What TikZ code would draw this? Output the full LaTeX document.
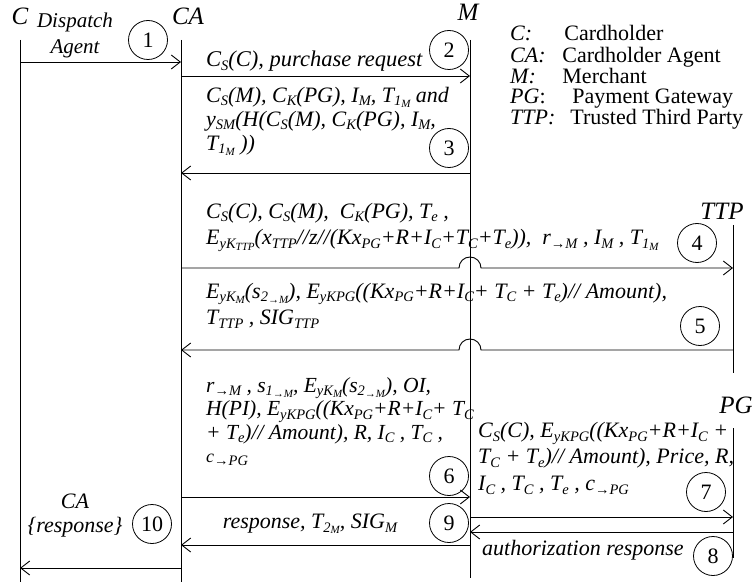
\documentclass[tikz,border=0pt]{standalone}
\usepackage{fontspec}
\setmainfont{Liberation Serif}
\usepackage{tikz}
\usetikzlibrary{arrows.meta}
\newcommand\sbs[1]{\raisebox{-.35ex}{\fontsize{14.5}{14.5}\selectfont #1}}
\newcommand\ssbs[1]{\raisebox{-.25ex}{\fontsize{11}{11}\selectfont #1}}
\tikzstyle{Actor}=[font=\itshape\fontsize{25}{25}\selectfont,inner sep=0pt]
\tikzstyle{LifeLine}=[line width=.9pt]
\tikzstyle{StepNode}=[circle,draw,line width=.8pt,minimum size=39pt,inner sep=0pt,
font=\fontsize{22}{22}\selectfont]
\tikzstyle{MsgArrow}=[line width=.9pt,-{Straight Barb[length=9pt,width=14pt]}]
\tikzstyle{MsgText}=[font=\itshape\fontsize{22}{24}\selectfont,align=left,anchor=north west,
inner sep=0pt]
\tikzstyle{WideText}=[MsgText,font=\itshape\fontsize{22}{26.5}\selectfont]
\tikzstyle{LegendBox}=[font=\fontsize{22}{19.5}\selectfont,anchor=north west,inner sep=0pt]

\begin{document}
\begin{tikzpicture}[x=1pt,y=-1pt]
    \useasboundingbox (0,0) rectangle (755,588);
    % actors
    \node[Actor](C)at(20,16){C};
    \node[Actor,font=\itshape\fontsize{21}{26}\selectfont,align=center](CDisp)at(75,35){Dispatch\\Agent};
    \node[Actor](CA)at(188,16){CA};
    \node[Actor](M)at(468,12){M};
    \node[Actor](TTP)at(722,211){TTP};
    \node[Actor](PG)at(736,405){PG};
    % life lines
    \coordinate(cTop)at(20,40);   \coordinate(cBot)at(20,582);
    \coordinate(caTop)at(181,40); \coordinate(caBot)at(181,582);
    \coordinate(mTop)at(470,40);  \coordinate(mBot)at(470,578);
    \coordinate(ttpTop)at(733,225); \coordinate(ttpBot)at(733,373);
    \coordinate(pgTop)at(733,428);  \coordinate(pgBot)at(733,558);
    \draw[LifeLine](cTop)--(cBot);
    \draw[LifeLine](caTop)--(caBot);
    \draw[LifeLine](mTop)--(mBot);
    \draw[LifeLine](ttpTop)--(ttpBot);
    \draw[LifeLine](pgTop)--(pgBot);
    % legend
    \node[LegendBox](legend)at(510,25.5){\begin{tabular}{@{}l@{\hspace{7pt}}l@{}}
        \textit{C:}   & \hspace{2pt}Cardholder\\
        \textit{CA:}  & Cardholder Agent\\
        \textit{M:}   & Merchant\\
        \textit{PG}:  & \hspace{10pt}Payment Gateway\\
        \textit{TTP:} & \hspace{8pt}Trusted Third Party
    \end{tabular}};
    % message points
    \coordinate(c1)at(20,62);    \coordinate(ca1)at(181,62);
    \coordinate(ca2)at(181,76);  \coordinate(m2)at(470,76);
    \coordinate(m3)at(470,173);  \coordinate(ca3)at(181,173);
    \coordinate(ca4)at(181,268); \coordinate(m4)at(470,268);  \coordinate(ttp4)at(733,268);
    \coordinate(ttp5)at(733,350);\coordinate(m5)at(470,350);  \coordinate(ca5)at(181,350);
    \coordinate(ca6)at(181,497); \coordinate(m6)at(470,497);
    \coordinate(m7)at(470,517);  \coordinate(pg7)at(733,517);
    \coordinate(pg8)at(733,532); \coordinate(m8)at(470,532);
    \coordinate(m9)at(470,545);  \coordinate(ca9)at(181,545);
    \coordinate(ca10)at(181,568);\coordinate(c10)at(20,568);
    % messages
    \draw[MsgArrow](c1)--(ca1);
    \draw[MsgArrow](ca2)--(m2);
    \draw[MsgArrow](m3)--(ca3);
    \draw[MsgArrow](ca4)--([xshift=-11pt]m4)arc[start angle=180,end angle=0,radius=11pt]--(ttp4);
    \draw[MsgArrow](ttp5)--([xshift=11pt]m5)arc[start angle=0,end angle=180,radius=11pt]--(ca5);
    \draw[MsgArrow](ca6)--(m6);
    \draw[MsgArrow](m7)--(pg7);
    \draw[MsgArrow](pg8)--(m8);
    \draw[MsgArrow](m9)--(ca9);
    \draw[MsgArrow](ca10)--(c10);
    % labels
    \node[MsgText,font=\itshape\fontsize{22.5}{24}\selectfont](t2)at(206,51){C\sbs{S}(C), purchase request};
    \node[MsgText](t3)at(206,87){C\sbs{S}(M), C\sbs{K}(PG), I\sbs{M}, T\sbs{1\ssbs{M}} and\\
        y\sbs{SM}(H(C\sbs{S}(M), C\sbs{K}(PG), I\sbs{M},\\
        T\sbs{1\ssbs{M}} ))};
    \node[WideText](t4)at(206,203){C\sbs{S}(C), C\sbs{S}(M),\ \ C\sbs{K}(PG), T\sbs{e} ,\\
        E\sbs{yK\ssbs{TTP}}(x\sbs{TTP}//z//(Kx\sbs{PG}+R+I\sbs{C}+T\sbs{C}+T\sbs{e})),\ \ r\sbs{→M} , I\sbs{M} , T\sbs{1\ssbs{M}}};
    \node[WideText](t5)at(206,283){E\sbs{yK\ssbs{M}}(s\sbs{2\ssbs{→M}}), E\sbs{yKPG}((Kx\sbs{PG}+R+I\sbs{C}+ T\sbs{C} + T\sbs{e})// Amount),\\
        T\sbs{TTP} , SIG\sbs{TTP}};
    \node[MsgText,font=\itshape\fontsize{21.5}{23.5}\selectfont](t6)at(206,377){r\sbs{→M} , s\sbs{1\ssbs{→M}}, E\sbs{yK\ssbs{M}}(s\sbs{2\ssbs{→M}}), OI,\\
        H(PI), E\sbs{yKPG}((Kx\sbs{PG}+R+I\sbs{C}+ T\sbs{C}\\
        + T\sbs{e})// Amount), R, I\sbs{C} , T\sbs{C} ,\\
        {\fontsize{18}{18}\selectfont c\sbs{→PG}}};
    \node[WideText](t7)at(478,422){C\sbs{S}(C), E\sbs{yKPG}((Kx\sbs{PG}+R+I\sbs{C} +\\
        T\sbs{C} + T\sbs{e})// Amount), Price, R,\\
        I\sbs{C} , T\sbs{C} , T\sbs{e} , c\sbs{→PG}};
    \node[MsgText,anchor=west](t8)at(482,550){authorization response};
    \node[MsgText,anchor=center](t9)at(310,524){response, T\sbs{2\ssbs{M}}, SIG\sbs{M}};
    \node[MsgText,anchor=center,align=center](t10)at(75,516){CA\\\{response\}};
    % step numbers
    \node[StepNode](s1)at(148,40){1};
    \node[StepNode](s2)at(449,50){2};
    \node[StepNode](s3)at(449,148){3};
    \node[StepNode](s4)at(697,243){4};
    \node[StepNode](s5)at(700,326){5};
    \node[StepNode](s6)at(449,476){6};
    \node[StepNode](s7)at(706,492){7};
    \node[StepNode](s8)at(713,556){8};
    \node[StepNode](s9)at(449,523){9};
    \node[StepNode](s10)at(152,524){10};
\end{tikzpicture}
\end{document}
